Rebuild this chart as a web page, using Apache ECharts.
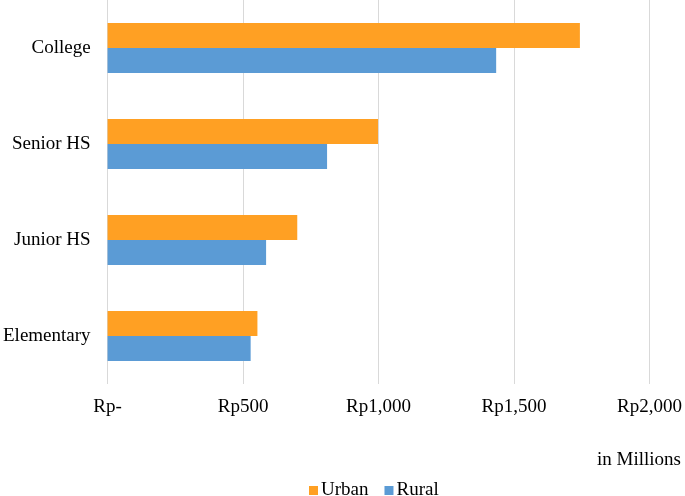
<!DOCTYPE html>
<html>
<head>
<meta charset="utf-8">
<script src="https://cdn.jsdelivr.net/npm/echarts@6/dist/echarts.min.js"></script>
<style>html,body{margin:0;padding:0;background:#fff}#c{width:685px;height:496px}</style>
</head>
<body>
<div id="c"></div>
<script>
const categories = ['Elementary', 'Junior HS', 'Senior HS', 'College'];
const urban = [553, 700, 998, 1743];
const rural = [528, 585, 810, 1434];
const tickLabels = {0: 'Rp-', 500: 'Rp500', 1000: 'Rp1,000', 1500: 'Rp1,500', 2000: 'Rp2,000'};

const font = '"Liberation Serif", "Times New Roman", serif';
const chart = echarts.init(document.getElementById('c'), null, {renderer: 'canvas'});
chart.setOption({
  animation: false,
  backgroundColor: '#fff',
  textStyle: {fontFamily: font},
  grid: {left: 105, right: 33, top: 0, height: 384, containLabel: false},
  legend: {
    data: ['Urban', 'Rural'],
    left: 304, top: 476,
    itemWidth: 9, itemHeight: 9, itemGap: 16,
    icon: 'rect',
    textStyle: {fontFamily: font, fontSize: 19, color: '#000', padding: [0, 0, 0, -2]}
  },
  graphic: [{
    type: 'text', right: 4, top: 451,
    style: {text: 'in Millions', font: '19px ' + font, fill: '#000'}
  }],
  xAxis: {
    type: 'value', min: 0, max: 2000, interval: 500,
    axisLine: {show: false}, axisTick: {show: false},
    splitLine: {show: true, lineStyle: {color: '#d9d9d9', width: 1}},
    axisLabel: {
      margin: 14, fontSize: 19, color: '#000', fontFamily: font,
      formatter: v => tickLabels[v]
    }
  },
  yAxis: {
    type: 'category', data: categories,
    axisLine: {show: false}, axisTick: {show: false},
    axisLabel: {margin: 17, fontSize: 19, color: '#000', fontFamily: font}
  },
  series: [
    {name: 'Urban', type: 'bar', data: urban, itemStyle: {color: '#FFA023'},
     barGap: '0%', barCategoryGap: '48%'},
    {name: 'Rural', type: 'bar', data: rural, itemStyle: {color: '#5B9BD5'},
     barGap: '0%', barCategoryGap: '48%'}
  ]
});
</script>
</body>
</html>
